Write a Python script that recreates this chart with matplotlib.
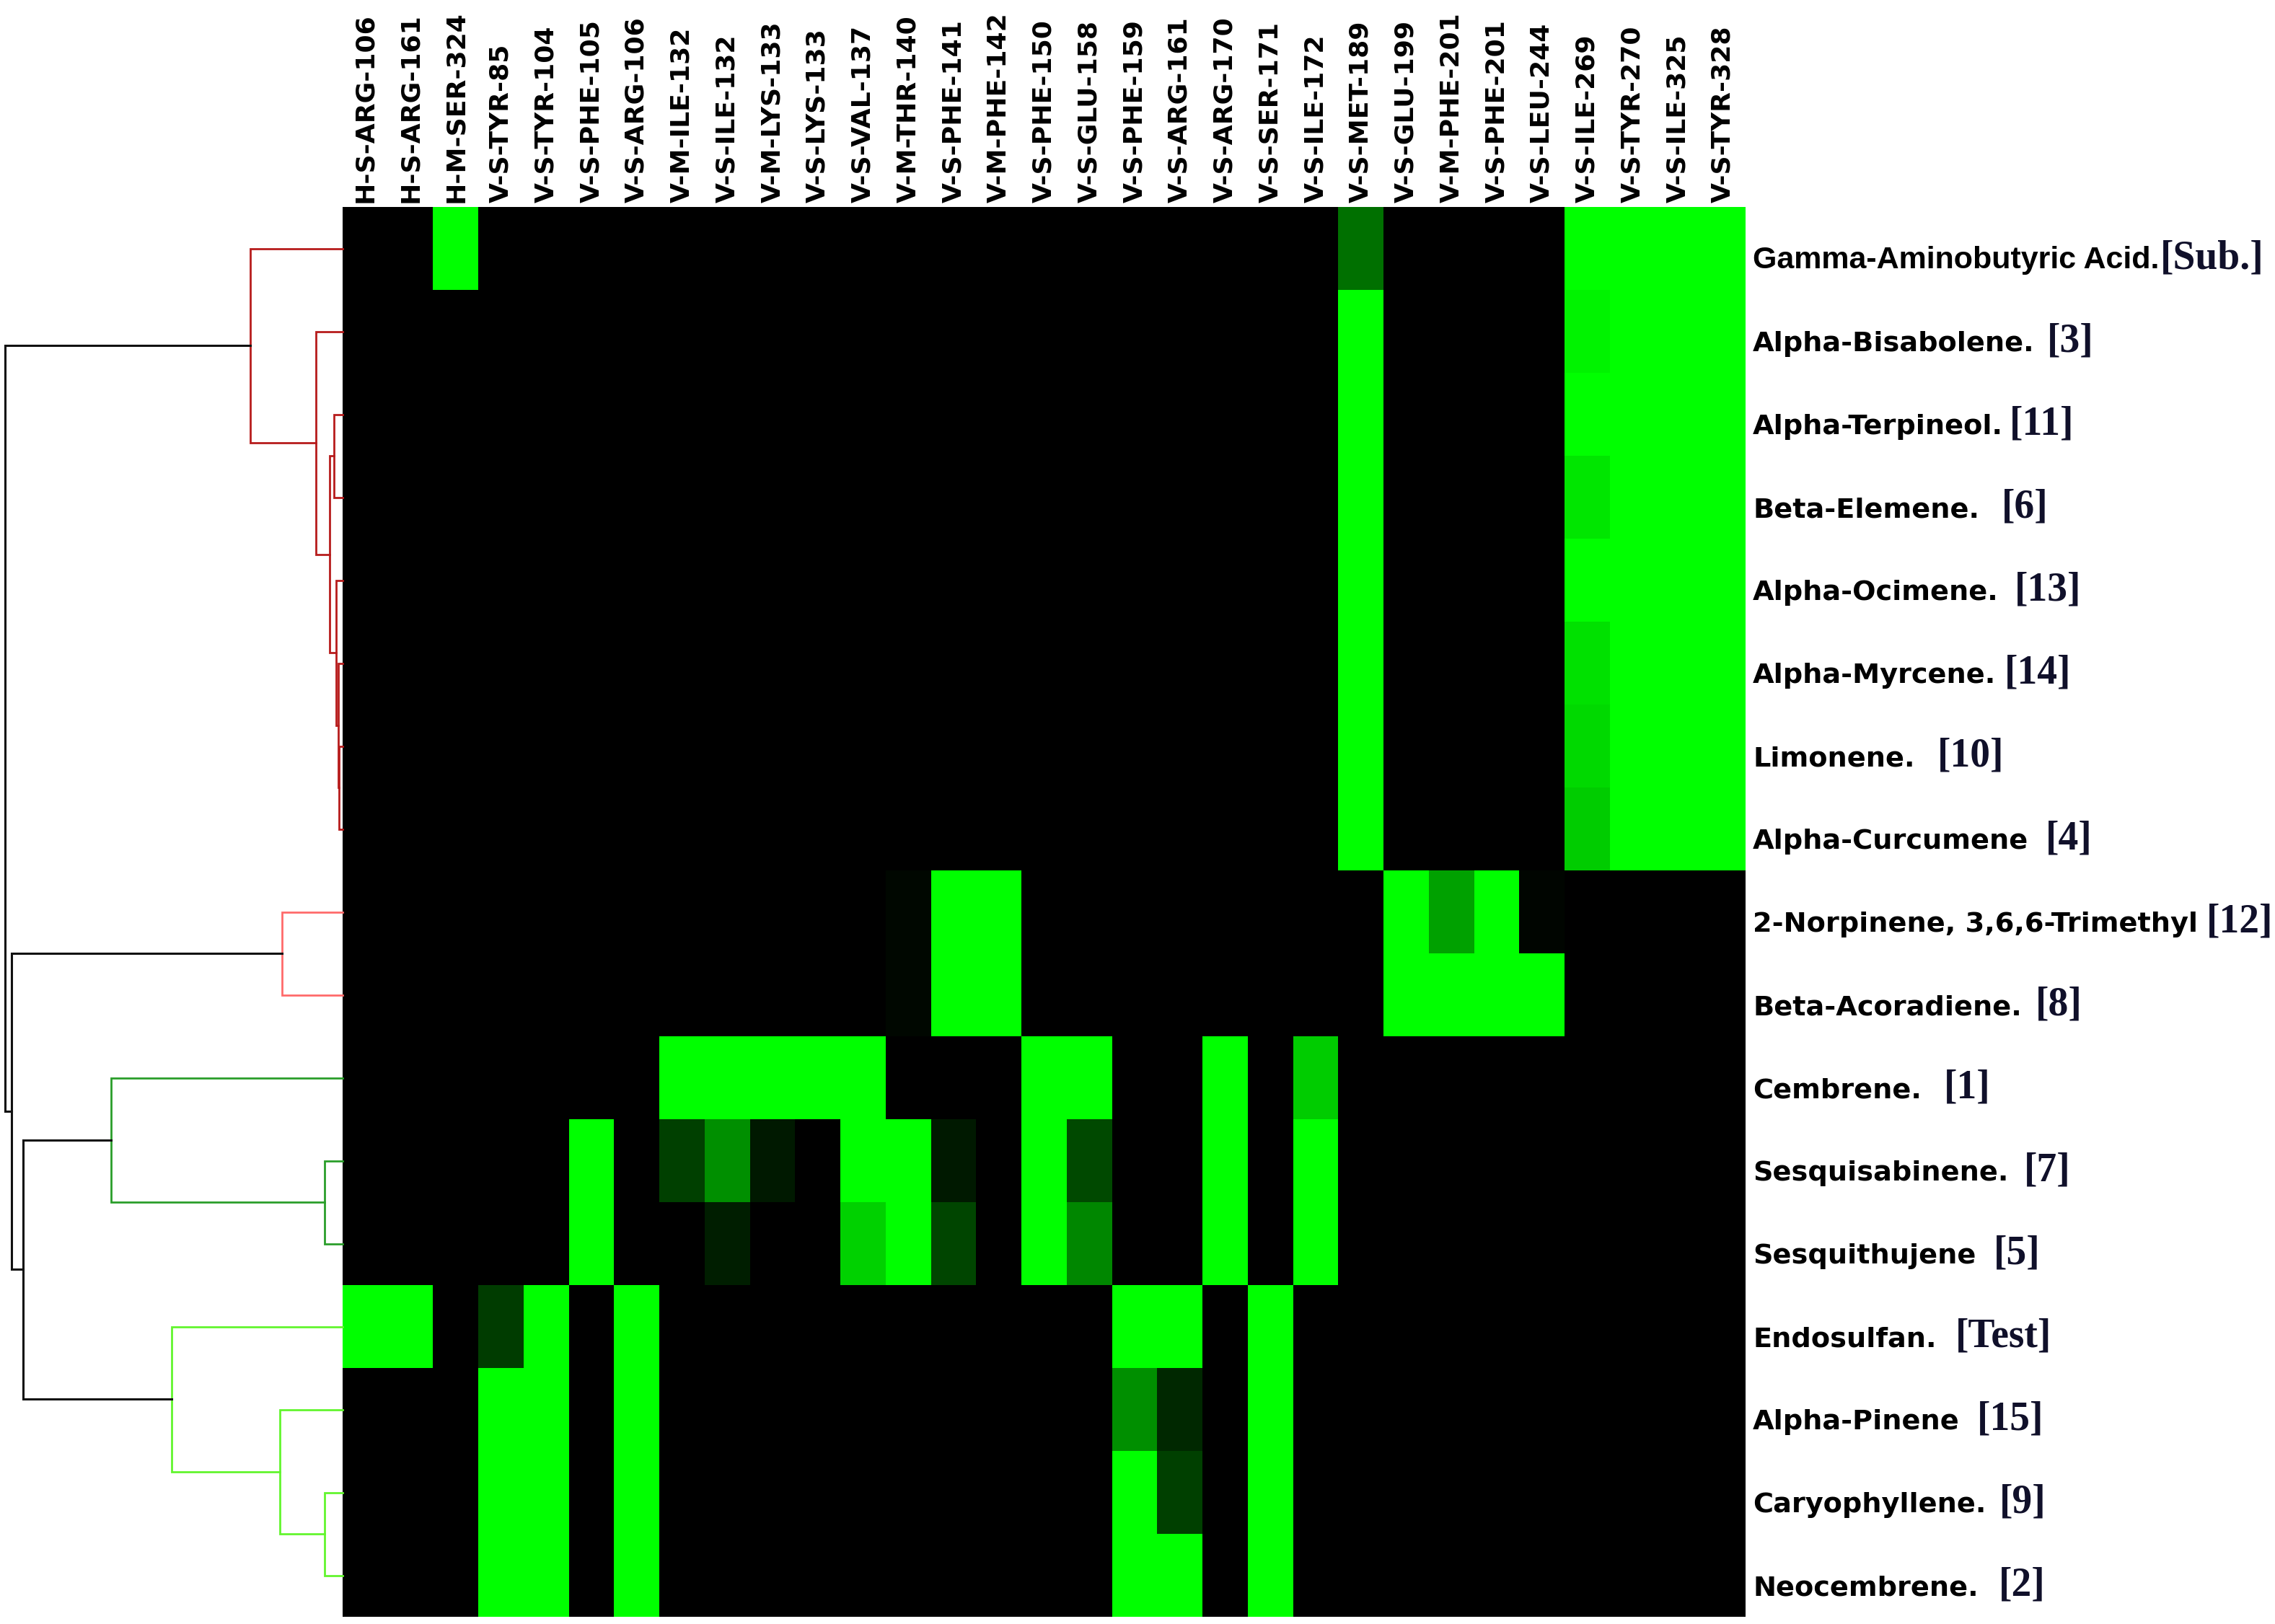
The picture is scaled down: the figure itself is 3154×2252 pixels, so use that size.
import numpy as np
import matplotlib
matplotlib.use("Agg")
import matplotlib.pyplot as plt
from matplotlib.colors import LinearSegmentedColormap
from matplotlib.transforms import blended_transform_factory

# columns: interacting residues
residues = [
    "H-S-ARG-106", "H-S-ARG-161", "H-M-SER-324", "V-S-TYR-85", "V-S-TYR-104",
    "V-S-PHE-105", "V-S-ARG-106", "V-M-ILE-132", "V-S-ILE-132", "V-M-LYS-133",
    "V-S-LYS-133", "V-S-VAL-137", "V-M-THR-140", "V-S-PHE-141", "V-M-PHE-142",
    "V-S-PHE-150", "V-S-GLU-158", "V-S-PHE-159", "V-S-ARG-161", "V-S-ARG-170",
    "V-S-SER-171", "V-S-ILE-172", "V-S-MET-189", "V-S-GLU-199", "V-M-PHE-201",
    "V-S-PHE-201", "V-S-LEU-244", "V-S-ILE-269", "V-S-TYR-270", "V-S-ILE-325",
    "V-S-TYR-328",
]

# rows: compounds (dendrogram order), name + reference tag
compounds = [
    "Gamma-Aminobutyric Acid.", "Alpha-Bisabolene.", "Alpha-Terpineol.",
    "Beta-Elemene.", "Alpha-Ocimene.", "Alpha-Myrcene.", "Limonene.",
    "Alpha-Curcumene", "2-Norpinene, 3,6,6-Trimethyl", "Beta-Acoradiene.",
    "Cembrene.", "Sesquisabinene.", "Sesquithujene", "Endosulfan.",
    "Alpha-Pinene", "Caryophyllene.", "Neocembrene.",
]
refs = ["[Sub.]", "[3]", "[11]", "[6]", "[13]", "[14]", "[10]", "[4]", "[12]",
        "[8]", "[1]", "[7]", "[5]", "[Test]", "[15]", "[9]", "[2]"]

# interaction scores, one row per compound (0 = none, 1 = strongest)
scores = [
    [0, 0, 1, 0, 0, 0, 0, 0, 0, 0, 0, 0, 0, 0, 0, 0, 0, 0, 0, 0, 0, 0, .44, 0, 0, 0, 0, 1, 1, 1, 1],
    [0, 0, 0, 0, 0, 0, 0, 0, 0, 0, 0, 0, 0, 0, 0, 0, 0, 0, 0, 0, 0, 0, 1, 0, 0, 0, 0, .95, 1, 1, 1],
    [0, 0, 0, 0, 0, 0, 0, 0, 0, 0, 0, 0, 0, 0, 0, 0, 0, 0, 0, 0, 0, 0, 1, 0, 0, 0, 0, 1, 1, 1, 1],
    [0, 0, 0, 0, 0, 0, 0, 0, 0, 0, 0, 0, 0, 0, 0, 0, 0, 0, 0, 0, 0, 0, 1, 0, 0, 0, 0, .90, 1, 1, 1],
    [0, 0, 0, 0, 0, 0, 0, 0, 0, 0, 0, 0, 0, 0, 0, 0, 0, 0, 0, 0, 0, 0, 1, 0, 0, 0, 0, 1, 1, 1, 1],
    [0, 0, 0, 0, 0, 0, 0, 0, 0, 0, 0, 0, 0, 0, 0, 0, 0, 0, 0, 0, 0, 0, 1, 0, 0, 0, 0, .88, 1, 1, 1],
    [0, 0, 0, 0, 0, 0, 0, 0, 0, 0, 0, 0, 0, 0, 0, 0, 0, 0, 0, 0, 0, 0, 1, 0, 0, 0, 0, .85, 1, 1, 1],
    [0, 0, 0, 0, 0, 0, 0, 0, 0, 0, 0, 0, 0, 0, 0, 0, 0, 0, 0, 0, 0, 0, 1, 0, 0, 0, 0, .80, 1, 1, 1],
    [0, 0, 0, 0, 0, 0, 0, 0, 0, 0, 0, 0, .03, 1, 1, 0, 0, 0, 0, 0, 0, 0, 0, 1, .63, 1, .02, 0, 0, 0, 0],
    [0, 0, 0, 0, 0, 0, 0, 0, 0, 0, 0, 0, .03, 1, 1, 0, 0, 0, 0, 0, 0, 0, 0, 1, 1, 1, 1, 0, 0, 0, 0],
    [0, 0, 0, 0, 0, 0, 0, 1, 1, 1, 1, 1, 0, 0, 0, 1, 1, 0, 0, 1, 0, .80, 0, 0, 0, 0, 0, 0, 0, 0, 0],
    [0, 0, 0, 0, 0, 1, 0, .25, .56, .10, 0, 1, 1, .10, 0, 1, .29, 0, 0, 1, 0, 1, 0, 0, 0, 0, 0, 0, 0, 0, 0],
    [0, 0, 0, 0, 0, 1, 0, 0, .12, 0, 0, .82, 1, .27, 0, 1, .53, 0, 0, 1, 0, 1, 0, 0, 0, 0, 0, 0, 0, 0, 0],
    [1, 1, 0, .24, 1, 0, 1, 0, 0, 0, 0, 0, 0, 0, 0, 0, 0, 1, 1, 0, 1, 0, 0, 0, 0, 0, 0, 0, 0, 0, 0],
    [0, 0, 0, 1, 1, 0, 1, 0, 0, 0, 0, 0, 0, 0, 0, 0, 0, .56, .16, 0, 1, 0, 0, 0, 0, 0, 0, 0, 0, 0, 0],
    [0, 0, 0, 1, 1, 0, 1, 0, 0, 0, 0, 0, 0, 0, 0, 0, 0, 1, .25, 0, 1, 0, 0, 0, 0, 0, 0, 0, 0, 0, 0],
    [0, 0, 0, 1, 1, 0, 1, 0, 0, 0, 0, 0, 0, 0, 0, 0, 0, 1, 1, 0, 1, 0, 0, 0, 0, 0, 0, 0, 0, 0, 0],
]

# row dendrogram: merge k creates node 17 + k (leaves are 0..16)
merge_left = [6, 5, 4, 2, 20, 1, 0, 8, 11, 10, 15, 14, 13, 26, 24, 23]
merge_right = [7, 17, 18, 3, 19, 21, 22, 9, 12, 25, 16, 27, 28, 29, 30, 31]
merge_height = [5, 6, 9, 12, 18, 37, 128, 84, 25, 321, 25, 87, 237, 443, 459, 468]
merge_group = ["red"] * 7 + ["salmon", "dgreen", "dgreen", "lgreen", "lgreen", "lgreen",
                             "top", "top", "top"]

group_colors = {"red": "#b71c1c", "salmon": "#ff6b6b", "dgreen": "#2a9e2a",
                "lgreen": "#62f52e", "top": "#111111"}
# gap (px) between compound name and its reference tag
tag_gap = [1, 17, 9, 31, 22, 12, 31, 24, 12, 19, 31, 22, 24, 26, 24, 19, 28]
# the first label is set in a narrower, taller face in the original
name_font = {0: ("Liberation Sans", 31)}

W, H = 3154, 2252
fig = plt.figure(figsize=(W / 100, H / 100), dpi=100)
left, right, top, bottom = 475 / W, 2420 / W, 1 - 287 / H, 1 - 2242 / H

# heatmap
ax = fig.add_axes([left, bottom, right - left, top - bottom])
cmap = LinearSegmentedColormap.from_list("kg", ["#000000", "#00ff00"])
data = np.array(scores, dtype=float)
ax.imshow(data, cmap=cmap, vmin=0, vmax=1, aspect="auto", interpolation="nearest")
ax.set_xticks(range(len(residues)))
ax.set_xticklabels(residues, rotation=90, fontsize=26, fontweight="bold",
                   family="DejaVu Sans")
ax.xaxis.tick_top()
ax.tick_params(length=0, pad=4)
ax.set_yticks([])
for s in ax.spines.values():
    s.set_visible(False)

trans = blended_transform_factory(ax.transAxes, ax.transData)
for i, (name, ref) in enumerate(zip(compounds, refs)):
    fam, size = name_font.get(i, ("DejaVu Sans", 27.5))
    t = ax.text(1 + 10 / (2420 - 475), i + 0.24, name, transform=trans,
                fontsize=size, fontweight="bold", family=fam,
                va="baseline", ha="left", clip_on=False)
    ax.annotate(ref, xy=(1, i + 0.24), xycoords=(t, "data"),
                xytext=(tag_gap[i] * 0.72, 0), textcoords="offset points",
                fontsize=40, fontweight="bold", family="Liberation Serif",
                color="#10102a", va="baseline", ha="left", annotation_clip=False)

# dendrogram
axd = fig.add_axes([0, bottom, left, top - bottom])
n = len(compounds)
ypos = {i: float(i) for i in range(n)}
hpos = {i: 0.0 for i in range(n)}
for k, (l, r, h, g) in enumerate(zip(merge_left, merge_right, merge_height, merge_group)):
    node = n + k
    ypos[node] = (ypos[l] + ypos[r]) / 2
    hpos[node] = h
    axd.plot([hpos[l], h, h, hpos[r]], [ypos[l], ypos[l], ypos[r], ypos[r]],
             color=group_colors[g], lw=2.2 if g == "top" else 2.0,
             solid_joinstyle="miter", clip_on=False)
axd.set_xlim(W * left, 0)
axd.set_ylim(n - 0.5, -0.5)
axd.axis("off")

fig.savefig("out.png", dpi=100)
